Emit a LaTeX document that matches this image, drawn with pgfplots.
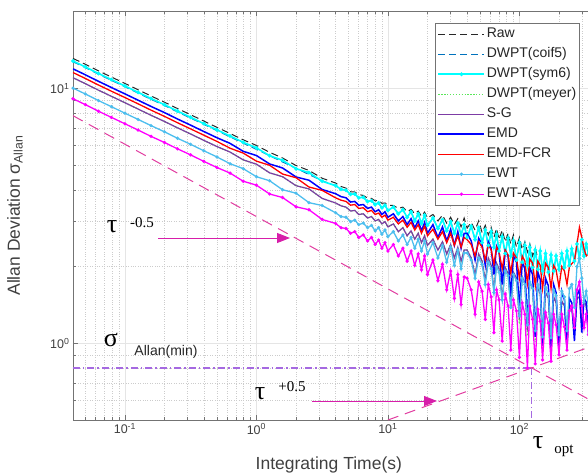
\documentclass[border=0pt]{standalone}
\usepackage{fontspec}
\setmainfont{Liberation Sans}
\newfontfamily\tnr{Liberation Serif}
\usepackage{pgfplots}
\usepackage{pgfplotstable}
\pgfplotsset{compat=1.18}
\usetikzlibrary{arrows.meta}

\definecolor{rawcol}{RGB}{40,40,40}
\definecolor{coifcol}{RGB}{0,114,189}
\definecolor{symcol}{RGB}{0,255,255}
\definecolor{meyercol}{RGB}{90,230,90}
\definecolor{sgcol}{RGB}{125,60,165}
\definecolor{emdcol}{RGB}{0,0,255}
\definecolor{fcrcol}{RGB}{255,0,0}
\definecolor{ewtcol}{RGB}{77,190,238}
\definecolor{asgcol}{RGB}{255,0,255}
\definecolor{taucol}{RGB}{225,60,160}
\definecolor{arrcol}{RGB}{215,30,170}
\definecolor{mincol}{RGB}{165,105,225}

% Allan deviation per method (integrating time x in s)
\pgfplotstableread{
x raw coif sym meyer sg emd fcr ewt asg
0.0403 13.10 12.71 12.80 11.00 11.00 11.92 11.53 10.02 9.10
0.05 12.42 12.05 12.13 10.43 10.43 11.30 10.93 9.50 8.63
0.063 11.70 11.35 11.43 9.83 9.83 10.65 10.30 8.95 8.13
0.079 11.07 10.74 10.82 9.30 9.30 10.07 9.74 8.47 7.69
0.1 10.45 10.14 10.21 8.78 8.78 9.51 9.20 7.99 7.26
0.126 9.87 9.57 9.64 8.29 8.29 8.98 8.69 7.55 6.86
0.158 9.33 9.05 9.12 7.84 7.84 8.49 8.21 7.14 6.48
0.2 8.82 8.56 8.62 7.41 7.41 8.03 7.76 6.75 6.13
0.251 8.33 8.08 8.14 7.00 7.00 7.58 7.33 6.37 5.79
0.316 7.88 7.64 7.70 6.62 6.62 7.17 6.93 6.03 5.48
0.398 7.44 7.22 7.27 6.25 6.25 6.77 6.55 5.69 5.17
0.501 7.03 6.82 6.87 5.91 5.91 6.40 6.19 5.38 4.89
0.631 6.65 6.45 6.50 5.62 5.62 6.08 5.82 5.06 4.65
0.794 6.28 6.09 6.14 5.24 5.24 5.66 5.57 4.84 4.32
1 5.97 5.76 5.84 5.04 5.04 5.45 5.18 4.50 4.17
1.26 5.61 5.44 5.44 4.66 4.66 5.05 4.99 4.34 3.85
1.58 5.33 5.14 5.22 4.50 4.50 4.87 4.61 4.00 3.73
2 4.98 4.86 4.84 4.15 4.15 4.49 4.46 3.88 3.43
2.51 4.76 4.59 4.67 4.03 4.03 4.36 4.10 3.56 3.34
3.16 4.44 4.34 4.32 3.70 3.70 4.01 3.98 3.47 3.06
4 4.25 4.15 4.15 3.55 3.55 3.86 3.72 3.25 2.95
4.4 4.12 4.02 4.02 3.46 3.46 3.76 3.64 3.14 2.84
4.8 4.06 3.98 3.98 3.42 3.42 3.72 3.60 3.12 2.82
5.2 3.93 3.84 3.84 3.30 3.30 3.58 3.48 3.00 2.70
5.6 3.92 3.85 3.85 3.32 3.32 3.60 3.50 3.04 2.74
6 3.83 3.72 3.72 3.20 3.20 3.48 3.38 2.92 2.60
6.5 3.80 3.74 3.74 3.22 3.22 3.50 3.40 2.96 2.66
7 3.71 3.60 3.60 3.10 3.10 3.38 3.28 2.84 2.52
7.5 3.70 3.62 3.62 3.14 3.14 3.42 3.32 2.90 2.60
8 3.62 3.50 3.50 3.02 3.02 3.28 3.20 2.76 2.44
8.5 3.63 3.55 3.55 3.06 3.06 3.34 3.24 2.84 2.54
9 3.54 3.40 3.40 2.94 2.94 3.20 3.12 2.68 2.36
9.5 3.55 3.48 3.48 3.00 3.00 3.28 3.18 2.78 2.48
10 3.48 3.32 3.32 2.86 2.86 3.12 3.04 2.62 2.30
11 3.47 3.42 3.42 2.94 2.94 3.22 3.12 2.74 2.44
12 3.38 3.22 3.22 2.74 2.74 3.02 2.94 2.52 2.20
13 3.42 3.34 3.34 2.84 2.84 3.14 3.04 2.66 2.36
14 3.28 3.12 3.12 2.64 2.64 2.92 2.85 2.44 2.10
15 3.35 3.28 3.28 2.76 2.76 3.08 2.98 2.60 2.30
16 3.22 3.02 3.02 2.56 2.56 2.84 2.78 2.36 2.02
17 3.30 3.22 3.22 2.70 2.70 3.02 2.92 2.56 2.24
18 3.15 2.95 2.95 2.48 2.48 2.76 2.70 2.30 1.94
19 3.27 3.18 3.18 2.64 2.64 2.98 2.88 2.52 2.20
20 3.10 2.90 2.90 2.42 2.42 2.70 2.64 2.24 1.86
22 3.20 3.10 3.10 2.56 2.56 2.92 2.80 2.48 2.12
24 3.02 2.82 2.82 2.32 2.32 2.60 2.56 2.16 1.76
26 3.18 3.05 3.05 2.50 2.50 2.86 2.74 2.42 2.04
28 2.96 2.76 2.76 2.24 2.24 2.52 2.48 2.08 1.62
30 3.12 3.00 3.00 2.44 2.44 2.80 2.70 2.38 1.92
32 2.92 2.70 2.70 2.16 2.16 2.42 2.42 2.02 1.50
34 3.08 2.96 2.96 2.38 2.38 2.74 2.64 2.32 1.86
36 2.86 2.66 2.66 2.10 2.10 2.36 2.38 1.96 1.42
38 3.10 2.92 2.92 2.32 2.32 2.70 2.60 2.26 1.82
40 2.83 2.60 2.60 2.32 2.32 2.70 2.55 2.26 1.80
43 2.98 2.88 2.88 2.16 2.16 2.52 2.44 2.12 1.62
46 2.78 2.55 2.55 1.86 1.86 2.12 2.20 1.80 1.30
49 3.02 2.84 2.84 2.24 2.24 2.58 2.50 2.16 1.74
52 2.72 2.48 2.48 2.10 2.10 2.44 2.38 2.04 1.60
55 2.90 2.78 2.78 1.76 1.76 2.02 2.12 1.70 1.24
58 2.66 2.42 2.42 2.16 2.16 2.50 2.44 2.08 1.70
61 2.85 2.74 2.74 2.02 2.02 2.36 2.32 1.96 1.52
64 2.60 2.38 2.38 1.62 1.62 1.86 2.04 1.58 1.10
67 2.82 2.68 2.68 2.06 2.06 2.40 2.38 2.00 1.62
70 2.55 2.30 2.30 1.96 1.96 2.28 2.28 1.90 1.48
74 2.78 2.62 2.62 1.50 1.50 1.70 1.96 1.48 1.02
78 2.50 2.25 2.25 1.98 1.98 2.30 2.32 1.92 1.56
82 2.70 2.58 2.58 1.88 1.88 2.20 2.22 1.84 1.40
86 2.45 2.20 2.20 1.38 1.38 1.52 1.88 1.38 0.94
90 2.66 2.52 2.52 1.90 1.90 2.20 2.26 1.86 1.48
95 2.38 2.12 2.12 1.80 1.80 2.08 2.16 1.76 1.34
100 2.60 2.48 2.48 1.19 1.24 1.36 1.80 1.28 0.88
105 2.33 2.08 2.08 1.82 1.82 2.08 2.20 1.80 1.44
110 2.50 2.42 2.42 1.72 1.72 1.96 2.10 1.70 1.30
115 2.28 2.02 2.02 1.07 1.12 1.18 1.72 1.18 0.80
120 2.45 2.38 2.38 1.74 1.74 1.98 2.14 1.74 1.40
126 2.20 1.98 1.98 1.64 1.64 1.86 2.06 1.64 1.24
132 2.35 2.32 2.32 1.01 1.06 1.06 1.68 1.12 0.83
138 2.15 1.95 1.95 1.66 1.66 1.90 2.10 1.70 1.36
144 nan 2.30 2.30 1.56 1.56 1.78 2.02 1.60 1.22
150 nan 1.92 1.92 0.97 1.02 0.98 1.64 1.06 0.86
158 nan 2.25 2.25 1.58 1.58 1.80 2.06 1.66 1.32
166 nan 1.90 1.90 1.50 1.50 1.68 1.98 1.56 1.20
174 nan 2.22 2.22 0.95 1.00 0.95 1.64 1.05 0.85
182 nan 1.92 1.92 1.52 1.52 1.70 2.02 1.62 1.30
190 nan 2.20 2.20 1.44 1.44 1.58 1.94 1.54 1.18
200 nan 1.95 1.95 0.97 1.02 0.98 1.66 1.08 0.90
210 nan 2.25 2.25 1.46 1.46 1.60 2.00 1.60 1.30
220 nan 1.98 1.98 1.40 1.40 1.48 1.92 1.52 1.16
230 nan 2.30 2.30 0.97 1.02 0.96 1.70 1.12 0.94
240 nan 2.02 2.02 1.42 1.42 1.50 2.00 1.64 1.34
250 nan 2.35 2.35 1.38 1.38 1.44 2.05 1.70 1.40
262 nan 2.10 2.10 1.10 1.10 1.02 2.10 1.38 1.15
274 nan 2.45 2.45 1.50 1.50 1.55 2.45 2.00 1.62
286 nan 2.15 2.15 1.52 1.52 1.62 2.85 2.15 1.74
298 nan 2.55 2.55 1.20 1.20 1.10 2.60 1.80 1.40
310 nan 2.20 2.20 1.48 1.48 1.50 2.35 1.45 1.15
322 nan 2.45 2.45 1.40 1.40 1.45 2.20 1.60 1.30
335 nan 2.25 2.25 1.15 1.15 1.08 2.25 1.40 1.08
350 nan 2.30 2.30 1.30 1.30 1.30 2.20 1.50 1.20
}\adev

\begin{document}
\begin{tikzpicture}
\begin{axis}[
  at={(0pt,0pt)}, anchor=south west,
  scale only axis, width=525.3pt, height=409pt,
  xmode=log, ymode=log,
  xmin=0.0403, xmax=398, ymin=0.5, ymax=20.1,
  xtick={0.1,1,10,100},
  xticklabels={10\textsuperscript{-1},10\textsuperscript{0},10\textsuperscript{1},10\textsuperscript{2}},
  ytick={1,10},
  yticklabels={10\textsuperscript{0},10\textsuperscript{1}},
  minor xtick={0.05,0.06,0.07,0.08,0.09,0.2,0.3,0.4,0.5,0.6,0.7,0.8,0.9,2,3,4,5,6,7,8,9,20,30,40,50,60,70,80,90,200,300},
  minor ytick={0.6,0.7,0.8,0.9,2,3,4,5,6,7,8,9,20},
  grid=both,
  major grid style={draw=black!10, line width=0.6pt},
  minor grid style={draw=black!20, dotted, line width=0.5pt},
  tick align=inside,
  major tick length=5pt, minor tick length=3pt,
  every tick/.style={black!55, line width=0.5pt},
  axis line style={black!55, line width=0.8pt},
  ticklabel style={font=\fontsize{12.5}{12.5}\selectfont, text=black!75},
  xlabel={Integrating Time(s)},
  ylabel={Allan Deviation σ\textsubscript{Allan}},
  label style={font=\fontsize{17.5}{17.5}\selectfont, text=black!75},
  xlabel style={at={(rel axis cs:0.487,-0.110)}, anchor=center},
  ylabel style={at={(rel axis cs:-0.1104,0.5)}, anchor=center},
  legend cell align=left,
  legend style={at={(rel axis cs:0.9652,0.971)}, anchor=north east,
    draw=black!55, line width=0.6pt, fill=white,
    font=\fontsize{14}{14}\selectfont, row sep=4pt,
    inner xsep=2pt, inner ysep=3pt,
    nodes={inner sep=1.5pt, text height=10pt, text depth=3pt, text=black!85}},
  legend image code/.code={\draw[mark repeat=2,mark phase=2,#1] plot coordinates {(0pt,0pt) (23pt,0pt) (46pt,0pt)};},
]
\addplot[color=rawcol, line width=1pt, dash pattern=on 7pt off 4pt] table[x=x,y=raw]{\adev};
\addlegendentry{Raw}
\addplot[color=coifcol, line width=1pt, dash pattern=on 7pt off 4pt] table[x=x,y=coif]{\adev};
\addlegendentry{DWPT(coif5)}
\addplot[color=symcol, line width=1.6pt, mark=*, mark size=1pt, mark options={solid}] table[x=x,y=sym]{\adev};
\addlegendentry{DWPT(sym6)}
\addplot[color=meyercol, line width=1.3pt, dash pattern=on 1.3pt off 1.6pt] table[x=x,y=meyer]{\adev};
\addlegendentry{DWPT(meyer)}
\addplot[color=sgcol, line width=1.2pt] table[x=x,y=sg]{\adev};
\addlegendentry{S-G}
\addplot[color=emdcol, line width=1.5pt] table[x=x,y=emd]{\adev};
\addlegendentry{EMD}
\addplot[color=fcrcol, line width=1.3pt] table[x=x,y=fcr]{\adev};
\addlegendentry{EMD-FCR}
\addplot[color=ewtcol, line width=1.3pt, mark=*, mark size=0.9pt, mark options={solid}] table[x=x,y=ewt]{\adev};
\addlegendentry{EWT}
\addplot[color=asgcol, line width=1.3pt, mark=*, mark size=0.9pt, mark options={solid}] table[x=x,y=asg]{\adev};
\addlegendentry{EWT-ASG}
% slope guides and minimum
\addplot[color=taucol, line width=1pt, dash pattern=on 11pt off 7pt, forget plot] coordinates {(0.0403,7.81) (400,0.574)};
\addplot[color=taucol, line width=1pt, dash pattern=on 11pt off 7pt, forget plot] coordinates {(10,0.5) (400,0.996)};
\addplot[color=mincol, line width=1.2pt, dash pattern=on 7pt off 3pt on 1.5pt off 3pt, forget plot] coordinates {(0.0403,0.80) (124,0.80)};
\addplot[color=mincol, line width=1.2pt, dash pattern=on 7pt off 3pt on 1.5pt off 3pt, forget plot] coordinates {(124,0.80) (124,0.5)};
\end{axis}
% annotations (pt offsets from the lower left corner of the plot area)
\draw[arrcol, line width=1pt, -{Triangle[length=13pt,width=10pt]}] (85pt,182pt) -- (217pt,182pt);
\draw[arrcol, line width=1pt, -{Triangle[length=13pt,width=10pt]}] (239pt,19pt) -- (364pt,19pt);
\node[font=\tnr\fontsize{26}{26}\selectfont] at (39pt,193pt) {τ};
\node[font=\tnr\fontsize{15}{15}\selectfont] at (69pt,197pt) {-0.5};
\node[font=\tnr\fontsize{26}{26}\selectfont] at (38pt,80pt) {σ};
\node[font=\fontsize{14}{14}\selectfont, text=black!85] at (93pt,68pt) {Allan(min)};
\node[font=\tnr\fontsize{26}{26}\selectfont] at (187pt,26pt) {τ};
\node[font=\tnr\fontsize{15}{15}\selectfont] at (219pt,33pt) {+0.5};
\node[font=\tnr\fontsize{26}{26}\selectfont] at (465pt,-23pt) {τ};
\node[font=\tnr\fontsize{15}{15}\selectfont] at (491pt,-31pt) {opt};
\pgfresetboundingbox
\useasboundingbox (-73pt,-54pt) rectangle (515pt,420pt);
\end{tikzpicture}
\end{document}
